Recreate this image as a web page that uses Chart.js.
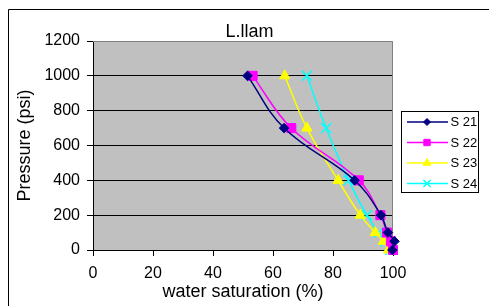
<!DOCTYPE html>
<html>
<head>
<meta charset="utf-8">
<script src="https://cdn.jsdelivr.net/npm/chart.js@4"></script>
<style>
html,body{margin:0;padding:0;background:#fff;}
#wrap{position:relative;width:489px;height:306px;}
</style>
</head>
<body>
<div id="wrap"><canvas id="c" width="489" height="306"></canvas></div>
<script>
const chartTitle = 'L.llam';
const xTitle = 'water saturation (%)';
const yTitle = 'Pressure (psi)';
const seriesNames = ['S 21', 'S 22', 'S 23', 'S 24'];
const pressure = [1000, 700, 400, 200, 100, 50, 0];
const s21 = [51.5, 63.7, 87.2, 96.0, 98.3, 100.5, 99.8];
const s22 = [53.2, 66.1, 88.6, 95.8, 98.0, 99.3, 100];
const s23 = [63.9, 71.3, 81.7, 89.1, 94.1, 96.8, 98.5];
const s24 = [71.3, 77.7, 85.2, 91.3, 95.2, 97.4, 99.1];
const colors = ['#000080', '#FF00FF', '#FFFF00', '#00FFFF'];
const markers = ['rectRot', 'rect', 'triangle', 'crossRot'];
const markerSizes = [4.8, 6.4, 6, 7];
const legendMarkerSizes = [3.5, 4.5, 4.5, 5];

const seriesValues = [s21, s22, s23, s24];
const FONT = 'Arial, "Liberation Sans", sans-serif';

const datasets = seriesValues.map((vals, i) => ({
  label: seriesNames[i],
  data: vals.map((v, j) => ({x: v, y: pressure[j]})),
  showLine: true,
  tension: 0.4,
  borderColor: colors[i],
  backgroundColor: colors[i],
  borderWidth: 1.5,
  pointStyle: markers[i],
  pointRadius: markerSizes[i],
  pointBorderWidth: markers[i] === 'crossRot' ? 1.5 : 1,
  pointBorderColor: colors[i],
  pointBackgroundColor: colors[i],
  clip: false
}));

const framePlugin = {
  id: 'frame',
  beforeDraw(chart) {
    const ctx = chart.ctx, a = chart.chartArea;
    ctx.save();
    ctx.fillStyle = '#ffffff';
    ctx.fillRect(0, 0, chart.width, chart.height);
    ctx.strokeStyle = '#000000';
    ctx.lineWidth = 1;
    ctx.beginPath();
    ctx.moveTo(8.5, chart.height);
    ctx.lineTo(8.5, 9.5);
    ctx.lineTo(chart.width, 9.5);
    ctx.stroke();
    ctx.fillStyle = '#C0C0C0';
    ctx.fillRect(a.left, a.top, a.right - a.left, a.bottom - a.top);
    ctx.restore();
  },
  beforeDatasetsDraw(chart) {
    const ctx = chart.ctx, a = chart.chartArea;
    ctx.save();
    ctx.strokeStyle = '#808080';
    ctx.lineWidth = 1;
    ctx.beginPath();
    ctx.moveTo(a.left, a.top + 0.5);
    ctx.lineTo(a.right - 0.5, a.top + 0.5);
    ctx.lineTo(a.right - 0.5, a.bottom);
    ctx.stroke();
    ctx.restore();
  },
  afterDraw(chart) {
    const ctx = chart.ctx;
    ctx.save();
    ctx.fillStyle = '#000';
    ctx.font = '18px ' + FONT;
    ctx.textAlign = 'center';
    ctx.textBaseline = 'middle';
    ctx.fillText(chartTitle, 249.5, 32);
    const bx = 401.5, by = 111.5, bw = 77, bh = 81;
    ctx.fillStyle = '#fff';
    ctx.fillRect(bx, by, bw, bh);
    ctx.strokeStyle = '#000';
    ctx.lineWidth = 1;
    ctx.strokeRect(bx, by, bw, bh);
    const rows = [122, 142.5, 163, 183.5];
    seriesNames.forEach((name, i) => {
      const y = rows[i];
      ctx.strokeStyle = colors[i];
      ctx.lineWidth = 1.5;
      ctx.beginPath();
      ctx.moveTo(407, y);
      ctx.lineTo(448, y);
      ctx.stroke();
      ctx.fillStyle = colors[i];
      ctx.strokeStyle = colors[i];
      ctx.lineWidth = markers[i] === 'crossRot' ? 1.5 : 1;
      Chart.helpers.drawPoint(ctx, {pointStyle: markers[i], radius: legendMarkerSizes[i], rotation: 0, borderWidth: ctx.lineWidth}, 427, y);
      ctx.fillStyle = '#000';
      ctx.font = '13px ' + FONT;
      ctx.textAlign = 'left';
      ctx.textBaseline = 'middle';
      ctx.fillText(name, 450.5, y + 0.5);
    });
    ctx.restore();
  }
};

new Chart(document.getElementById('c'), {
  type: 'scatter',
  data: {datasets},
  options: {
    responsive: false,
    animation: false,
    devicePixelRatio: 1,
    layout: {padding: {left: 0, right: 96, top: 41, bottom: 0}},
    plugins: {legend: {display: false}, title: {display: false}, tooltip: {enabled: false}},
    scales: {
      x: {
        type: 'linear', min: 0, max: 100,
        afterFit(s) { s.height = 56; },
        ticks: {stepSize: 20, color: '#000', font: {family: FONT, size: 16}, padding: 8, maxRotation: 0, callback: (v) => String(v)},
        grid: {drawOnChartArea: false, drawTicks: true, tickLength: 6, tickColor: '#000', color: '#000'},
        border: {display: true, color: '#000', width: 1},
        title: {display: true, text: xTitle, color: '#000', font: {family: FONT, size: 18, lineHeight: 1}, padding: {top: 0, bottom: 5}}
      },
      y: {
        type: 'linear', min: 0, max: 1200,
        afterFit(s) { s.width = 93; },
        ticks: {stepSize: 200, color: '#000', font: {family: FONT, size: 16}, padding: 7, callback: (v) => String(v)},
        grid: {
          drawOnChartArea: true, drawTicks: true, tickLength: 6, tickColor: '#000', lineWidth: 1,
          color: (c) => (c.tick && c.tick.value === 1200) ? 'rgba(0,0,0,0)' : '#000'
        },
        border: {display: true, color: '#000', width: 1},
        title: {display: true, text: yTitle, color: '#000', font: {family: FONT, size: 18, lineHeight: 1}, padding: {top: 16, bottom: 0}}
      }
    }
  },
  plugins: [framePlugin]
});
</script>
</body>
</html>
